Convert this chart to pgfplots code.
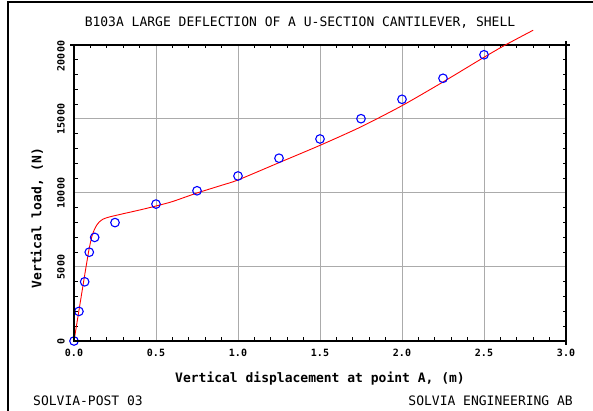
\documentclass[border=0pt]{standalone}
\usepackage{pgfplots}
\pgfplotsset{compat=1.18}
\usepackage{fontspec}
\setmainfont{DejaVu Sans Mono}
\setmonofont{DejaVu Sans Mono}
\begin{document}
\begin{tikzpicture}[x=1pt,y=1pt]
\useasboundingbox (0,0) rectangle (593,411);
\draw[line width=1.2pt] (8,0) -- (8,409) -- (593,409);
\begin{axis}[
  at={(74pt,70pt)}, anchor=south west,
  scale only axis, width=492pt, height=296pt,
  xmin=0, xmax=3, ymin=0, ymax=20000,
  scaled y ticks=false, scaled x ticks=false,
  xtick={0,0.5,1,1.5,2,2.5,3},
  xticklabels={0.0,0.5,1.0,1.5,2.0,2.5,3.0},
  ytick={0,5000,10000,15000,20000},
  yticklabels={0,5000,10000,15000,20000\kern22pt},
  minor x tick num=4, minor y tick num=4,
  grid=major, major grid style={black!33, line width=1pt},
  tick align=inside, major tick length=0pt, minor tick length=3.5pt,
  every tick/.style={black, line width=1pt},
  axis line style={line width=1.2pt},
  xticklabel style={font=\bfseries\fontsize{10}{10}\selectfont, inner sep=0pt, anchor=north},
  xticklabel shift=8pt,
  yticklabel style={font=\bfseries\fontsize{10}{10}\selectfont, inner sep=0pt, rotate=90, anchor=south},
  yticklabel shift=9pt,
  clip=false,
]
\addplot[red, line width=0.9pt, no markers, smooth, tension=0.4] coordinates {
(0,0) (0.03,2050) (0.06,4100) (0.09,6100) (0.11,7100) (0.125,7550) (0.14,7850)
(0.155,8050) (0.175,8220) (0.2,8330) (0.23,8420) (0.3,8600) (0.4,8850)
(0.5,9120) (0.6,9420) (0.75,10000) (0.9,10520) (1.0,10880) (1.25,12050)
(1.5,13220) (1.75,14470) (2.0,15900) (2.25,17500) (2.5,19170) (2.63,20000) (2.8,21000)
};
\addplot[only marks, mark=o, mark size=4.3pt, mark options={blue, line width=1.1pt}] coordinates {
(0,0) (0.03,2000) (0.065,4000) (0.093,6000) (0.126,7000) (0.25,8000)
(0.5,9250) (0.75,10150) (1.0,11150) (1.25,12350) (1.5,13650) (1.75,15020)
(2.0,16330) (2.25,17750) (2.5,19340)
};
\end{axis}
\draw[line width=2.2pt] (74,366) -- (74,70) -- (566,70);
\draw[line width=1.2pt] (566,370) -- (566,66);
\draw[line width=1.2pt] (566,366) -- (570,366);
\draw[line width=1.2pt] (70,366) -- (74,366);
\node[font=\fontsize{13}{13}\selectfont] at (300,388) {B103A LARGE DEFLECTION OF A U-SECTION CANTILEVER, SHELL};
\node[font=\bfseries\fontsize{13}{13}\selectfont] at (320,32) {Vertical displacement at point A, (m)};
\node[font=\bfseries\fontsize{13}{13}\selectfont, rotate=90] at (37,193) {Vertical load, (N)};
\node[font=\fontsize{13}{13}\selectfont, anchor=west, inner sep=0pt] at (33,10) {SOLVIA-POST 03};
\node[font=\fontsize{13}{13}\selectfont, anchor=east, inner sep=0pt] at (573,10) {SOLVIA ENGINEERING AB};
\end{tikzpicture}
\end{document}
